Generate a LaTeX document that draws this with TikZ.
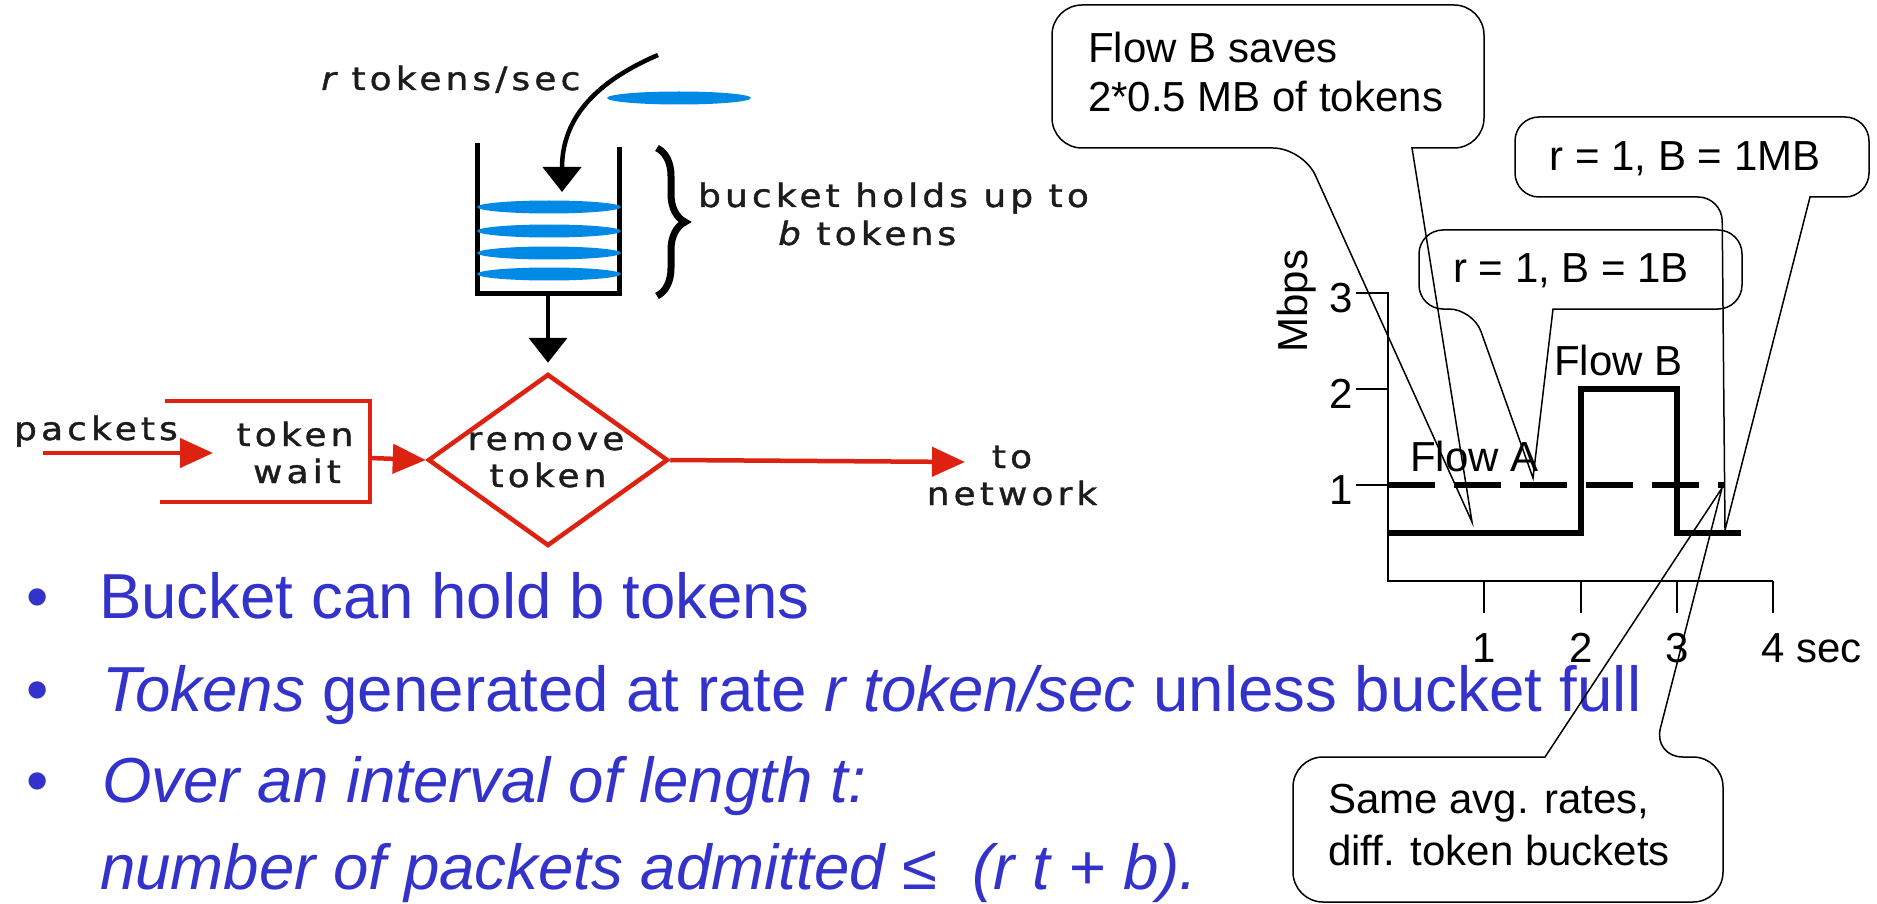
\documentclass[tikz,border=0pt]{standalone}
\usepackage{fontspec}
\setmainfont{Liberation Sans}
\newfontfamily\figfont[LetterSpace=13,FakeStretch=1.12,FakeBold=1.3]{DejaVu Sans}
\usetikzlibrary{arrows.meta,shapes.geometric,decorations.pathreplacing}
\definecolor{tokblue}{RGB}{0,137,229}
\definecolor{pktred}{RGB}{221,34,17}
\definecolor{txtblue}{RGB}{51,51,204}
\definecolor{figgray}{RGB}{28,28,28}
\begin{document}
\begin{tikzpicture}[x=1pt,y=-1pt,
  figtxt/.style={font=\figfont\fontsize{32}{37}\selectfont, text=figgray, inner sep=0pt},
  charttxt/.style={font=\fontsize{42}{50}\selectfont, inner sep=0pt},
  btxt/.style={font=\fontsize{63.6}{76}\selectfont, text=txtblue, inner sep=0pt},
  blkarr/.style={draw=black, line width=4.5pt, -{Triangle[width=38pt,length=25pt]}},
  redarr/.style={draw=pktred, line width=4.5pt, -{Triangle[width=29pt,length=33pt]}},
  redline/.style={draw=pktred, line width=4.5pt, line join=miter},
  token/.style={fill=tokblue},
  thinline/.style={line width=2pt},
  callout/.style={line width=1.5pt},
  flowline/.style={line width=5.5pt}
]
\useasboundingbox (0,0) rectangle (1877,904);

% ---------------- token bucket ----------------
\node[figtxt, anchor=base west] (rate) at (321,90) {\itshape r\upshape\ tokens/sec};
\fill[token] (679,98) ellipse [x radius=72pt, y radius=6.5pt];
\coordinate (cstart) at (658,55);
\coordinate (cend) at (562,192);
\draw[blkarr] (cstart) .. controls (600,80) and (562,115) .. (cend);

% bucket
\draw[line width=5pt, line join=miter] (477,143) -- (477,293) -- (619,293) -- (619,147);
\fill[token] (549,207) ellipse [x radius=72pt, y radius=6.5pt];
\fill[token] (549,231) ellipse [x radius=72pt, y radius=6.5pt];
\fill[token] (549,253) ellipse [x radius=72pt, y radius=6.5pt];
\fill[token] (549,274) ellipse [x radius=72pt, y radius=6.5pt];
\coordinate (bkb) at (548,293);

% brace
\draw[line width=7pt, decorate, decoration={brace, amplitude=28pt}] (657,148) -- (657,296);
\node[figtxt, anchor=base west] (holds1) at (698,207) {bucket holds up to};
\node[figtxt, anchor=base west] (holds2) at (778,245) {\itshape b\upshape\ tokens};

% remove token diamond
\node[diamond, draw=pktred, line width=4.5pt, minimum width=240pt, minimum height=172pt, inner sep=0pt] (rt) at (548,460) {};
\node[figtxt, anchor=base] (rt1) at (546,450) {remove};
\node[figtxt, anchor=base] (rt2) at (548,487) {token};
\draw[blkarr, shorten >=9pt] (bkb) -- (rt.north);

% packets & token wait
\node[figtxt, anchor=base west] (pk) at (14,440) {packets};
\coordinate (pin) at (43,453);
\coordinate (pend) at (213,453);
\draw[redarr] (pin) -- (pend);
\draw[redline] (165,401) -- (370,401) -- (370,502) -- (160,502);
\node[figtxt, anchor=base] (tw1) at (295,446) {token};
\node[figtxt, anchor=base] (tw2) at (297,483) {wait};
\coordinate (twr) at (370,458);
\draw[redarr] (twr) -- (rt.west);

% to network
\coordinate (tonet) at (965,462);
\draw[redarr] (rt.east) -- (tonet);
\node[figtxt, anchor=base] (to1) at (1012,468) {to};
\node[figtxt, anchor=base] (to2) at (1012,505) {network};

% ---------------- bullets ----------------
\node[btxt, anchor=base] (b1) at (38,618) {•};
\node[btxt, anchor=base] (b2) at (38,711) {•};
\node[btxt, anchor=base] (b3) at (38,802) {•};
\node[btxt, anchor=base west] (l1) at (99,618) {Bucket can hold b tokens};
\node[btxt, anchor=base west] (l2) at (102,711) {\itshape Tokens\/\upshape\ generated at rate \itshape r token/sec\/\upshape\ unless bucket full};
\node[btxt, anchor=base west] (l3) at (102,802) {\itshape Over an interval of length t:};
\node[btxt, anchor=base west] (l4) at (100,889) {\itshape number of packets admitted ≤\ \ (r t + b).};

% ---------------- chart ----------------
\coordinate (O) at (1388,581);
\draw[thinline] (1356,293) -- (1388,293) -- (O) -- (1773,581);
\draw[thinline] (1356,389) -- (1388,389);
\draw[thinline] (1356,485) -- (1388,485);
\draw[thinline] (1484,581) -- (1484,613);
\draw[thinline] (1581,581) -- (1581,613);
\draw[thinline] (1677,581) -- (1677,613);
\draw[thinline] (1773,581) -- (1773,613);
\node[charttxt, anchor=east] (y3) at (1353,298) {3};
\node[charttxt, anchor=east] (y2) at (1353,394) {2};
\node[charttxt, anchor=east] (y1) at (1353,490) {1};
\node[charttxt, anchor=base] (x1) at (1484,662) {1};
\node[charttxt, anchor=base] (x2) at (1581,662) {2};
\node[charttxt, anchor=base] (x3) at (1677,662) {3};
\node[charttxt, anchor=base west] (x4) at (1761,662) {4 sec};
\node[charttxt, rotate=90] (mbps) at (1297,301) {Mbps};

\draw[flowline, dash pattern=on 47pt off 19pt] (1388,485) -- (1725,485);
\draw[flowline, line join=miter] (1388,533) -- (1581,533) -- (1581,389) -- (1677,389) -- (1677,533) -- (1741,533);
\node[charttxt, anchor=base west] (fa) at (1410,471) {Flow A};
\node[charttxt, anchor=base west] (fb) at (1554,375) {Flow B};

% ---------------- callouts ----------------
% Flow B saves
\draw[callout] (1412,148) [rounded corners=30pt] -- (1484,148) -- (1484,5) -- (1052,5) -- (1052,148) -- (1303,148) [sharp corners] -- (1472,522) -- cycle;
\node[charttxt, anchor=base west] (cs1) at (1088,63) {Flow B saves};
\node[charttxt, anchor=base west] (cs2) at (1088,112) {2*0.5 MB of tokens};

% r=1, B=1MB
\draw[callout] (1810,197) [rounded corners=24pt] -- (1869,197) -- (1869,117) -- (1515,117) -- (1515,197) -- (1722,197) [sharp corners] -- (1725,530) -- cycle;
\node[charttxt, anchor=base] (cmb) at (1685,171) {r = 1, B = 1MB};

% r=1, B=1B
\draw[callout] (1553,309) [rounded corners=24pt] -- (1742,309) -- (1742,230) -- (1419,230) -- (1419,309) -- (1473,309) [sharp corners] -- (1533,478) -- cycle;
\node[charttxt, anchor=base west] (c1b) at (1453,283) {r = 1, B = 1B};

% Same avg rates
\draw[callout] (1545,757) [rounded corners=30pt] -- (1293,757) -- (1293,902) -- (1723,902) -- (1723,757) -- (1653,757) [sharp corners] -- (1722,488) -- cycle;
\node[charttxt, anchor=base west] (sa1) at (1328,813) {Same avg. rates,};
\node[charttxt, anchor=base west] (sa2) at (1328,865) {diff. token buckets};
\end{tikzpicture}
\end{document}
